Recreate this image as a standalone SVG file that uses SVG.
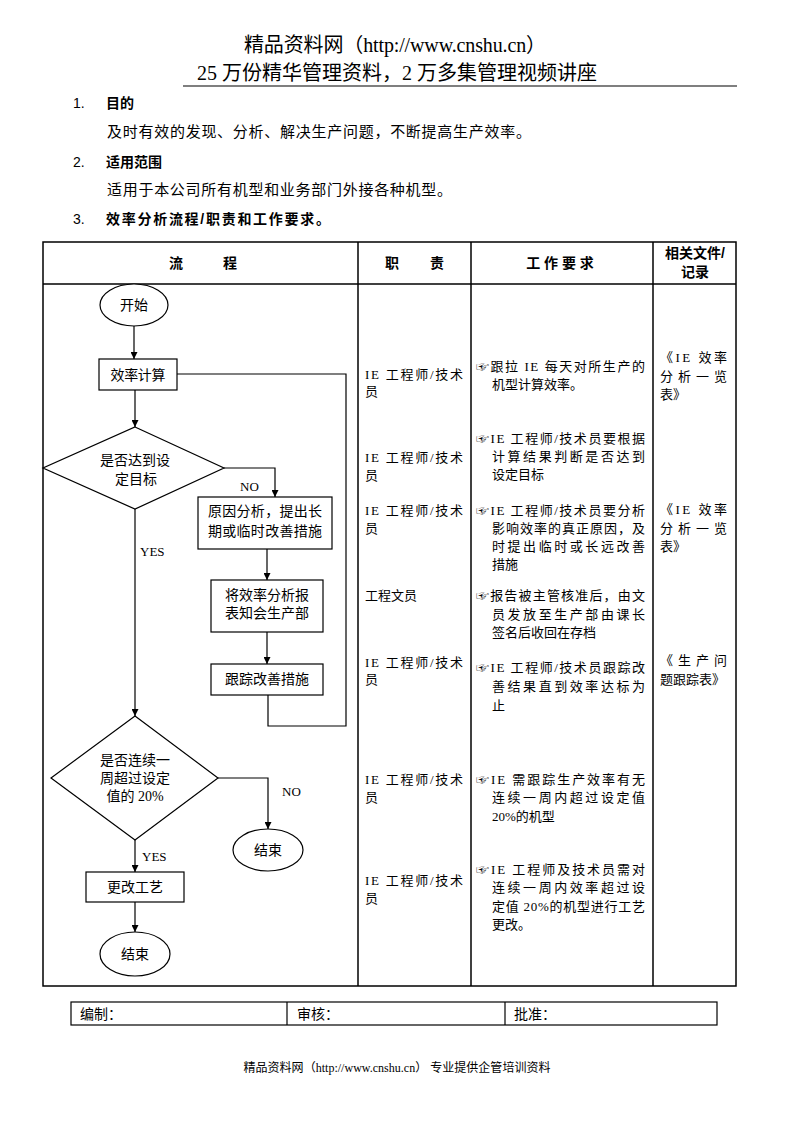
<svg xmlns="http://www.w3.org/2000/svg" width="793" height="1122" viewBox="0 0 793 1122">
<defs>
<style>
.s{font-family:"Liberation Serif","Noto Sans CJK SC",serif;fill:#000}
.h{font-family:"Liberation Sans","Noto Sans CJK SC",sans-serif;fill:#000}
.b{font-weight:bold}
.f14{font-size:14px}
.f13{font-size:13px}
.ln{fill:none;stroke:#000;stroke-width:1.2}
.tb{fill:none;stroke:#000;stroke-width:1.5}
.nd{fill:#fff;stroke:#000;stroke-width:1.2}
.m{text-anchor:middle}
</style>
<marker id="ar" markerUnits="userSpaceOnUse" markerWidth="9" markerHeight="7" viewBox="0 0 10 10" refX="10" refY="5" orient="auto">
<path d="M0,0 L10,5 L0,10 z" fill="#000"/>
</marker>
</defs>
<rect width="793" height="1122" fill="#fff"/>

<!-- page header -->
<g id="page-header">
<text class="s m" x="395" y="52" font-size="20" textLength="302" lengthAdjust="spacing">精品资料网（http://www.cnshu.cn）</text>
<text class="s m" x="397" y="80" font-size="20" textLength="400" lengthAdjust="spacing">25 万份精华管理资料，2 万多集管理视频讲座</text>
<line x1="183" y1="86" x2="737" y2="86" stroke="#000" stroke-width="1.2"/>
</g>

<!-- sections -->
<g id="sections">
<text class="h f14" x="73" y="108">1.</text>
<text class="h f14 b" x="106" y="108">目的</text>
<text class="s" x="107" y="137" font-size="15" textLength="424" lengthAdjust="spacing">及时有效的发现、分析、解决生产问题，不断提高生产效率。</text>
<text class="h f14" x="73" y="167">2.</text>
<text class="h f14 b" x="106" y="167">适用范围</text>
<text class="s" x="107" y="195" font-size="15" textLength="345" lengthAdjust="spacing">适用于本公司所有机型和业务部门外接各种机型。</text>
<text class="h f14" x="73" y="224">3.</text>
<text class="h f14 b" x="106" y="224" textLength="224" lengthAdjust="spacing">效率分析流程/职责和工作要求。</text>
</g>

<!-- table -->
<g id="table">
<rect class="tb" x="43" y="242" width="693" height="744"/>
<line class="tb" x1="43" y1="284" x2="736" y2="284"/>
<line class="tb" x1="358" y1="242" x2="358" y2="986"/>
<line class="tb" x1="471" y1="242" x2="471" y2="986"/>
<line class="tb" x1="653" y1="242" x2="653" y2="986"/>
<text class="h f14 b m" x="176" y="268">流</text>
<text class="h f14 b m" x="230" y="268">程</text>
<text class="h f14 b m" x="392" y="268">职</text>
<text class="h f14 b m" x="437" y="268">责</text>
<text class="h f14 b m" x="560" y="268">工 作 要 求</text>
<text class="h f14 b m" x="695" y="258">相关文件/</text>
<text class="h f14 b m" x="695" y="277">记录</text>
</g>

<!-- responsibility column -->
<g id="responsibility" class="s f13">
<text x="365" y="379" textLength="98" lengthAdjust="spacing">IE 工程师/技术</text>
<text x="365" y="396">员</text>
<text x="365" y="462" textLength="98" lengthAdjust="spacing">IE 工程师/技术</text>
<text x="365" y="480">员</text>
<text x="365" y="515" textLength="98" lengthAdjust="spacing">IE 工程师/技术</text>
<text x="365" y="533">员</text>
<text x="365" y="600">工程文员</text>
<text x="365" y="667" textLength="98" lengthAdjust="spacing">IE 工程师/技术</text>
<text x="365" y="684">员</text>
<text x="365" y="784" textLength="98" lengthAdjust="spacing">IE 工程师/技术</text>
<text x="365" y="802">员</text>
<text x="365" y="885" textLength="98" lengthAdjust="spacing">IE 工程师/技术</text>
<text x="365" y="903">员</text>
</g>

<!-- work requirements column -->
<g id="requirements" class="s f13">
<text x="476" y="371" textLength="169" lengthAdjust="spacing">☞跟拉 IE 每天对所生产的</text>
<text x="492" y="389">机型计算效率。</text>
<text x="476" y="443" textLength="169" lengthAdjust="spacing">☞IE 工程师/技术员要根据</text>
<text x="492" y="461" textLength="153" lengthAdjust="spacing">计算结果判断是否达到</text>
<text x="492" y="479">设定目标</text>
<text x="476" y="515" textLength="169" lengthAdjust="spacing">☞IE 工程师/技术员要分析</text>
<text x="492" y="533" textLength="153" lengthAdjust="spacing">影响效率的真正原因，及</text>
<text x="492" y="551" textLength="153" lengthAdjust="spacing">时提出临时或长远改善</text>
<text x="492" y="569">措施</text>
<text x="476" y="600" textLength="169" lengthAdjust="spacing">☞报告被主管核准后，由文</text>
<text x="492" y="619" textLength="153" lengthAdjust="spacing">员发放至生产部由课长</text>
<text x="492" y="637">签名后收回在存档</text>
<text x="476" y="672" textLength="169" lengthAdjust="spacing">☞IE 工程师/技术员跟踪改</text>
<text x="492" y="691" textLength="153" lengthAdjust="spacing">善结果直到效率达标为</text>
<text x="492" y="710">止</text>
<text x="476" y="784" textLength="169" lengthAdjust="spacing">☞IE 需跟踪生产效率有无</text>
<text x="492" y="802" textLength="153" lengthAdjust="spacing">连续一周内超过设定值</text>
<text x="492" y="821">20%的机型</text>
<text x="476" y="874" textLength="169" lengthAdjust="spacing">☞IE 工程师及技术员需对</text>
<text x="492" y="892" textLength="153" lengthAdjust="spacing">连续一周内效率超过设</text>
<text x="492" y="911" textLength="153" lengthAdjust="spacing">定值 20%的机型进行工艺</text>
<text x="492" y="929">更改。</text>
</g>

<!-- records column -->
<g id="records" class="s f13">
<text x="660" y="362" textLength="67" lengthAdjust="spacing">《IE 效率</text>
<text x="660" y="381" textLength="67" lengthAdjust="spacing">分析一览</text>
<text x="660" y="399">表》</text>
<text x="660" y="514" textLength="67" lengthAdjust="spacing">《IE 效率</text>
<text x="660" y="533" textLength="67" lengthAdjust="spacing">分析一览</text>
<text x="660" y="551">表》</text>
<text x="660" y="665" textLength="67" lengthAdjust="spacing">《生产问</text>
<text x="660" y="684">题跟踪表》</text>
</g>

<!-- connectors -->
<g id="connectors">
<line class="ln" x1="134" y1="326" x2="134" y2="359" marker-end="url(#ar)"/>
<line class="ln" x1="135" y1="390" x2="135" y2="427" marker-end="url(#ar)"/>
<polyline class="ln" points="224,468 275,468 275,497" marker-end="url(#ar)"/>
<line class="ln" x1="135" y1="509" x2="135" y2="716" marker-end="url(#ar)"/>
<line class="ln" x1="267" y1="549" x2="267" y2="580" marker-end="url(#ar)"/>
<line class="ln" x1="267" y1="632" x2="267" y2="664" marker-end="url(#ar)"/>
<polyline class="ln" points="268,695 268,726 346,726 346,374 177,374"/>
<polyline class="ln" points="218,778 268,778 268,829" marker-end="url(#ar)"/>
<line class="ln" x1="135" y1="840" x2="135" y2="872" marker-end="url(#ar)"/>
<line class="ln" x1="135" y1="902" x2="135" y2="932" marker-end="url(#ar)"/>
<text class="s f13" x="240" y="491">NO</text>
<text class="s f13" x="140" y="556">YES</text>
<text class="s f13" x="282" y="796">NO</text>
<text class="s f13" x="142" y="861">YES</text>
</g>

<!-- nodes -->
<g id="start">
<ellipse class="nd" cx="134" cy="305" rx="34" ry="21"/>
<text class="s f14 m" x="134" y="310">开始</text>
</g>
<g id="calc">
<rect class="nd" x="99" y="359" width="78" height="31"/>
<text class="s f14 m" x="138" y="380" textLength="55" lengthAdjust="spacing">效率计算</text>
</g>
<g id="decision1">
<polygon class="nd" points="135,427 224,468 135,509 43,468"/>
<text class="s f14 m" x="135" y="465">是否达到设</text>
<text class="s f14 m" x="136" y="484">定目标</text>
</g>
<g id="analysis">
<rect class="nd" x="198" y="497" width="134" height="52"/>
<text class="s f14 m" x="265" y="516" textLength="114" lengthAdjust="spacing">原因分析，提出长</text>
<text class="s f14 m" x="265" y="536" textLength="114" lengthAdjust="spacing">期或临时改善措施</text>
</g>
<g id="report">
<rect class="nd" x="211" y="580" width="112" height="52"/>
<text class="s f14 m" x="267" y="600">将效率分析报</text>
<text class="s f14 m" x="267" y="618">表知会生产部</text>
</g>
<g id="track">
<rect class="nd" x="211" y="664" width="112" height="31"/>
<text class="s f14 m" x="267" y="684">跟踪改善措施</text>
</g>
<g id="decision2">
<polygon class="nd" points="135,716 218,778 135,840 51,778"/>
<text class="s f14 m" x="135" y="765">是否连续一</text>
<text class="s f14 m" x="135" y="783">周超过设定</text>
<text class="s f14 m" x="135" y="801">值的 20%</text>
</g>
<g id="end2">
<ellipse class="nd" cx="268" cy="850" rx="35" ry="21"/>
<text class="s f14 m" x="268" y="855">结束</text>
</g>
<g id="change">
<rect class="nd" x="86" y="872" width="98" height="30"/>
<text class="s f14 m" x="135" y="892">更改工艺</text>
</g>
<g id="end1">
<ellipse class="nd" cx="135" cy="954" rx="35" ry="22"/>
<text class="s f14 m" x="135" y="959">结束</text>
</g>

<!-- sign-off row -->
<g id="signoff">
<rect class="ln" x="71" y="1002" width="646" height="23"/>
<line class="ln" x1="287" y1="1002" x2="287" y2="1025"/>
<line class="ln" x1="505" y1="1002" x2="505" y2="1025"/>
<text class="s f14" x="80" y="1019">编制：</text>
<text class="s f14" x="297" y="1019">审核：</text>
<text class="s f14" x="514" y="1019">批准：</text>
</g>

<!-- page footer -->
<g id="page-footer">
<text class="s m" x="397" y="1072" font-size="12" textLength="307" lengthAdjust="spacing">精品资料网（http://www.cnshu.cn） 专业提供企管培训资料</text>
</g>
</svg>
